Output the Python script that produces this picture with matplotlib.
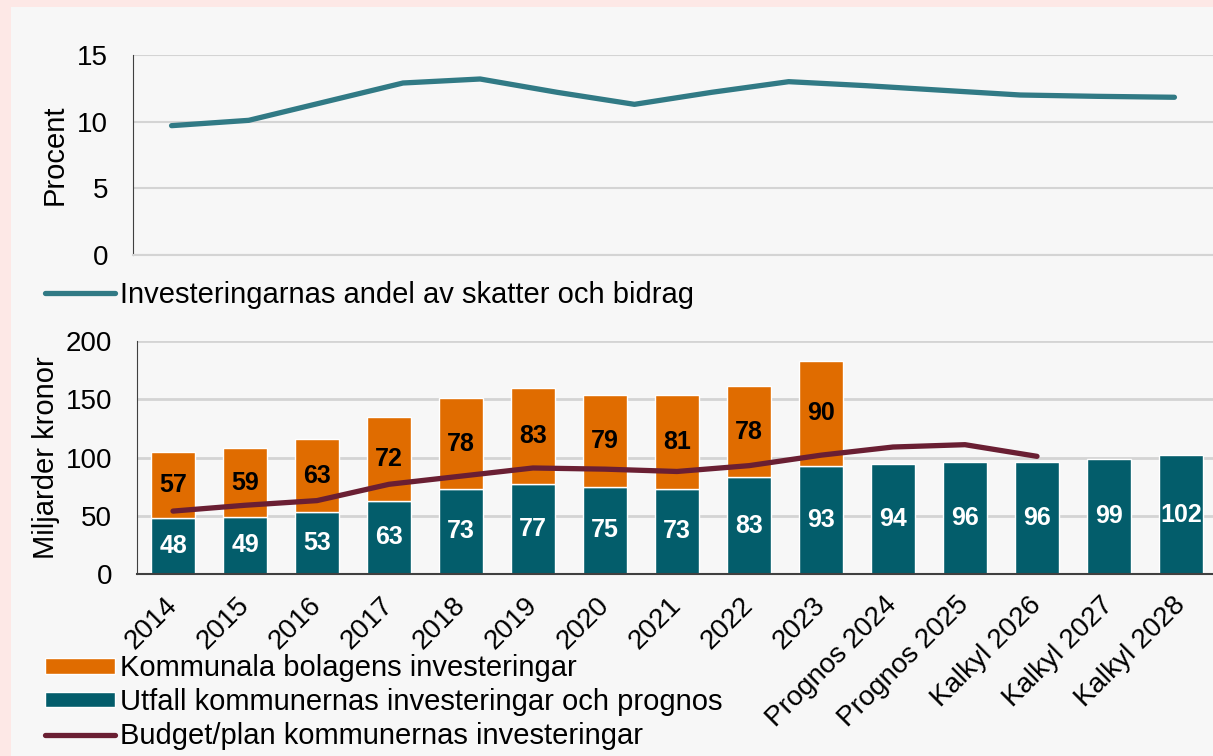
import numpy as np
import matplotlib
matplotlib.use("Agg")
from matplotlib import pyplot as plt
from matplotlib.patches import Rectangle
from matplotlib.transforms import ScaledTranslation

plt.rcParams['font.family'] = ['Liberation Sans', 'DejaVu Sans']

# data
categories = ['2014', '2015', '2016', '2017', '2018', '2019', '2020', '2021', '2022', '2023',
              'Prognos 2024', 'Prognos 2025', 'Kalkyl 2026', 'Kalkyl 2027', 'Kalkyl 2028']
utfall = [48, 49, 53, 63, 73, 77, 75, 73, 83, 93, 94, 96, 96, 99, 102]
bolag = [57, 59, 63, 72, 78, 83, 79, 81, 78, 90]
budget = [54, 59, 63, 77, 84, 91, 90, 88, 93, 102, 109, 111, 101]
andel = [9.7, 10.1, 11.5, 12.9, 13.2, 12.2, 11.3, 12.2, 13.0, 12.7, 12.35, 12.0, 11.9, 11.83]

orange = '#e06c00'
teal = '#035d6b'
teal_line = '#317a85'
maroon = '#6a1f33'
grid_c = '#d4d4d4'
spine_c = '#404040'

W, H = 1213, 756
fig = plt.figure(figsize=(W / 100, H / 100), dpi=100, facecolor='#fde8e6')
fig.patches.append(Rectangle((11 / W, 0), 1, 1 - 7 / H, transform=fig.transFigure,
                             facecolor='#f7f7f7', edgecolor='none', zorder=-10))

# top chart
ax1 = fig.add_axes([133 / W, 1 - 255 / H, 1080 / W, 200 / H])
ax1.set_facecolor('none')
x1 = np.arange(len(andel))
ax1.plot(x1, andel, color=teal_line, lw=3.8, solid_capstyle='round',
         label='Investeringarnas andel av skatter och bidrag')
ax1.set_xlim(-0.5, len(andel) - 0.5)
ax1.set_ylim(0, 15)
ax1.set_yticks([0, 5, 10, 15])
ax1.yaxis.grid(True, color=grid_c, lw=1.5)
ax1.set_axisbelow(True)
ax1.set_xticks([])
ax1.tick_params(axis='y', length=0, pad=18, labelsize=20)
for s in ['top', 'right']:
    ax1.spines[s].set_visible(False)
ax1.spines['bottom'].set_color(grid_c)
ax1.spines['bottom'].set_linewidth(1.5)
ax1.spines['left'].set_color(spine_c)
ax1.set_ylabel('Procent', fontsize=21, labelpad=6)
fig.legend(*ax1.get_legend_handles_labels(), loc='center left',
           bbox_to_anchor=(33 / W, 1 - 295 / H), frameon=False, fontsize=21,
           handlelength=2.4, handletextpad=0.2, borderaxespad=0)

# bottom chart
ax2 = fig.add_axes([137 / W, 1 - 574 / H, 1080 / W, 233 / H])
ax2.set_facecolor('none')
x2 = np.arange(len(categories))
b1 = ax2.bar(x2, utfall, width=0.62, color=teal, edgecolor='white', lw=1,
             label='Utfall kommunernas investeringar och prognos', zorder=2)
b2 = ax2.bar(x2[:len(bolag)], bolag, bottom=utfall[:len(bolag)], width=0.62, color=orange,
             edgecolor='white', lw=1, label='Kommunala bolagens investeringar', zorder=2)
l1, = ax2.plot(x2[:len(budget)], budget, color=maroon, lw=3.8, solid_capstyle='round',
               label='Budget/plan kommunernas investeringar', zorder=3)
ax2.bar_label(b1, label_type='center', color='white', fontsize=18, fontweight='bold')
ax2.bar_label(b2, label_type='center', color='black', fontsize=18, fontweight='bold')
ax2.set_xlim(-0.5, len(categories) - 0.5)
ax2.set_ylim(0, 200)
ax2.set_yticks([0, 50, 100, 150, 200])
ax2.yaxis.grid(True, color=grid_c, lw=2)
ax2.set_axisbelow(True)
ax2.set_xticks(x2)
ax2.set_xticklabels(categories, rotation=45, ha='right', va='baseline', rotation_mode='anchor')
ax2.tick_params(axis='y', length=0, pad=18, labelsize=20)
ax2.tick_params(axis='x', length=0, pad=23, labelsize=20)
shift = ScaledTranslation(5 / 100, 0, fig.dpi_scale_trans)
for lbl in ax2.get_xticklabels():
    lbl.set_transform(lbl.get_transform() + shift)
for s in ['top', 'right']:
    ax2.spines[s].set_visible(False)
ax2.spines['bottom'].set_color(spine_c)
ax2.spines['bottom'].set_linewidth(1.5)
ax2.spines['left'].set_color(spine_c)
ax2.set_ylabel('Miljarder kronor', fontsize=21, labelpad=4)
fig.legend([b2, b1, l1], [b2.get_label(), b1.get_label(), l1.get_label()],
           loc='center left', bbox_to_anchor=(33 / W, 1 - 702 / H), frameon=False,
           fontsize=21, handlelength=2.4, handleheight=0.45, handletextpad=0.2,
           labelspacing=0.2, borderaxespad=0)

fig.savefig('out.png', dpi=100, facecolor=fig.get_facecolor())
